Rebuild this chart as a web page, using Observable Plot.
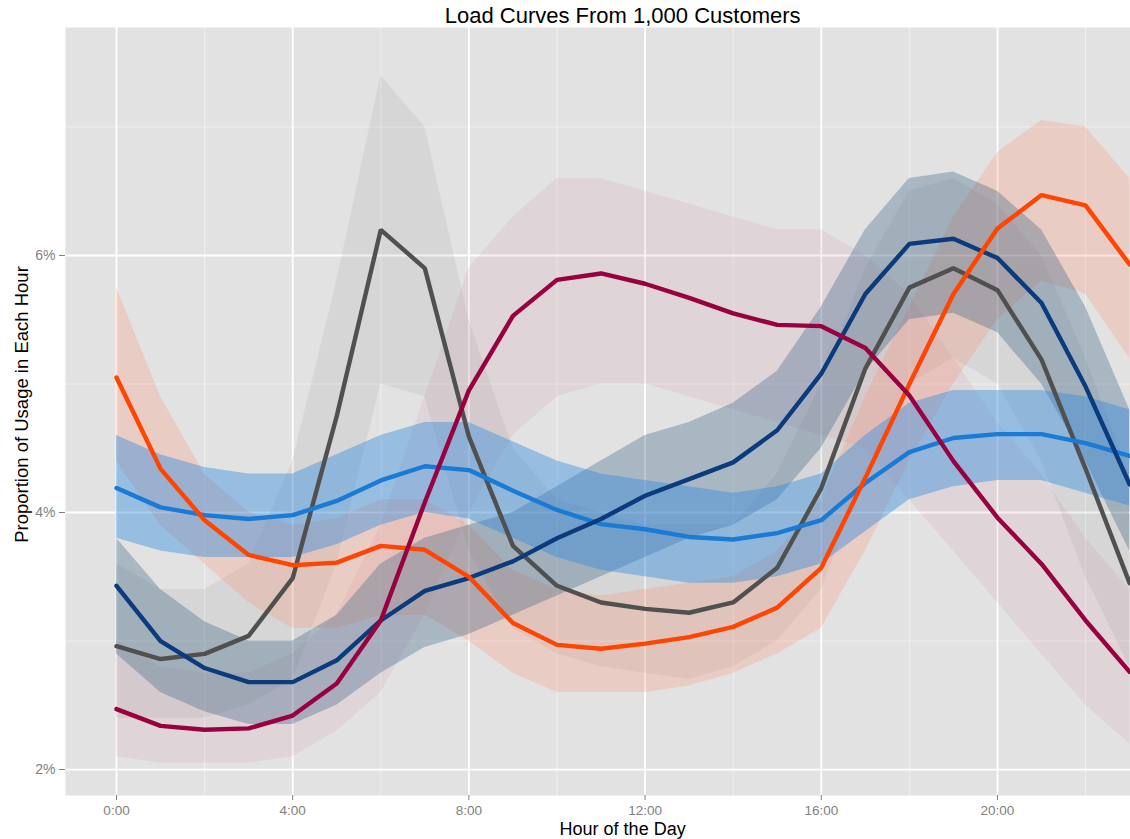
<!DOCTYPE html>
<html>
<head>
<meta charset="utf-8">
<script src="https://cdn.jsdelivr.net/npm/d3@7"></script>
<script src="https://cdn.jsdelivr.net/npm/@observablehq/plot@0.6"></script>
<style>
  html, body { margin: 0; padding: 0; background: #ffffff; }
  #chart { width: 1130px; height: 839px; overflow: hidden; }
</style>
</head>
<body>
<div id="chart"></div>
<script>
// ---------- data ----------
const titleText = "Load Curves From 1,000 Customers";
const xLabel = "Hour of the Day";
const yLabel = "Proportion of Usage in Each Hour";

const hours = [0,1,2,3,4,5,6,7,8,9,10,11,12,13,14,15,16,17,18,19,20,21,22,23];
const xTicks = [0,4,8,12,16,20];
const xTickLabels = ["0:00","4:00","8:00","12:00","16:00","20:00"];
const xMinor = [2,6,10,14,18,22];
const yTicks = [2,4,6];
const yTickLabels = ["2%","4%","6%"];
const yMinor = [3,5,7];

// cluster centre curves (% of daily usage per hour)
const orangeMean = [5.05,4.34,3.94,3.67,3.59,3.61,3.74,3.71,3.50,3.14,2.97,2.94,2.98,3.03,3.11,3.26,3.57,4.27,5.00,5.70,6.21,6.47,6.39,5.93];
const blueMean   = [4.19,4.04,3.98,3.95,3.98,4.09,4.25,4.36,4.33,4.17,4.02,3.91,3.87,3.81,3.79,3.84,3.94,4.23,4.47,4.58,4.61,4.61,4.54,4.44];
const navyMean   = [3.43,3.00,2.79,2.68,2.68,2.85,3.16,3.39,3.49,3.62,3.80,3.95,4.13,4.26,4.39,4.64,5.08,5.70,6.09,6.13,5.98,5.63,4.98,4.22];
const grayMean   = [2.96,2.86,2.90,3.04,3.49,4.75,6.20,5.90,4.59,3.74,3.43,3.30,3.25,3.22,3.30,3.57,4.19,5.12,5.75,5.90,5.73,5.19,4.34,3.45];
const maroonMean = [2.47,2.34,2.31,2.32,2.42,2.67,3.16,4.08,4.95,5.53,5.81,5.86,5.78,5.67,5.55,5.46,5.45,5.28,4.91,4.40,3.96,3.60,3.16,2.76];

// spread of the individual customer curves around each cluster (low / high envelope)
const orangeLo = [4.40,3.90,3.60,3.30,3.10,3.10,3.20,3.20,3.00,2.75,2.60,2.60,2.60,2.65,2.75,2.90,3.10,3.70,4.40,5.00,5.50,5.80,5.70,5.20];
const orangeHi = [5.75,4.90,4.30,4.00,3.90,3.95,4.10,4.10,3.90,3.55,3.40,3.35,3.40,3.45,3.50,3.70,4.10,4.90,5.60,6.30,6.80,7.05,7.00,6.60];
const blueLo   = [3.80,3.70,3.65,3.65,3.65,3.75,3.90,4.00,3.95,3.80,3.65,3.55,3.50,3.45,3.45,3.50,3.60,3.85,4.10,4.20,4.25,4.25,4.15,4.05];
const blueHi   = [4.60,4.45,4.35,4.30,4.30,4.45,4.60,4.70,4.70,4.55,4.40,4.30,4.25,4.20,4.15,4.20,4.30,4.60,4.85,4.95,4.95,4.95,4.90,4.80];
const navyLo   = [2.90,2.60,2.45,2.35,2.35,2.50,2.75,2.95,3.05,3.20,3.35,3.50,3.65,3.80,3.90,4.10,4.50,5.10,5.50,5.55,5.40,5.00,4.40,3.70];
const navyHi   = [3.80,3.40,3.15,3.00,3.00,3.20,3.60,3.80,3.90,4.00,4.20,4.40,4.60,4.70,4.85,5.10,5.60,6.20,6.60,6.65,6.50,6.20,5.60,4.80];
const grayLo   = [2.40,2.40,2.40,2.50,2.70,3.60,5.00,4.90,3.70,3.10,2.90,2.80,2.75,2.70,2.80,3.00,3.40,4.30,5.00,5.20,5.00,4.40,3.50,2.80];
const grayHi   = [3.60,3.40,3.40,3.60,4.40,5.80,7.40,7.00,5.50,4.50,4.10,4.00,3.90,3.90,3.90,4.30,5.00,5.90,6.50,6.60,6.40,6.00,5.20,4.30];
const maroonLo = [2.10,2.05,2.05,2.05,2.10,2.30,2.60,3.20,4.00,4.60,4.90,5.00,5.00,4.90,4.80,4.70,4.60,4.50,4.10,3.70,3.30,2.90,2.50,2.20];
const maroonHi = [3.00,2.80,2.75,2.75,2.90,3.20,3.90,4.90,5.90,6.30,6.60,6.60,6.50,6.40,6.30,6.20,6.20,6.00,5.70,5.20,4.70,4.30,3.80,3.40];

// ---------- build tables for the library ----------
const clusterNames = ["maroon","gray","orange","navy","blue"];
const means = {orange: orangeMean, blue: blueMean, navy: navyMean, gray: grayMean, maroon: maroonMean};
const los   = {orange: orangeLo, blue: blueLo, navy: navyLo, gray: grayLo, maroon: maroonLo};
const his   = {orange: orangeHi, blue: blueHi, navy: navyHi, gray: grayHi, maroon: maroonHi};
const lineColor = {orange:"#FF4500", blue:"#1A7BD6", navy:"#0B3B7D", gray:"#505050", maroon:"#99003F"};
const bandColor = {orange:"#FF8C66", blue:"#2F8AE0", navy:"#3A6388", gray:"#8A8A8A", maroon:"#C8688C"};
const bandOpacity = {orange:0.25, blue:0.42, navy:0.34, gray:0.13, maroon:0.11};

const rows = [];
for (const c of clusterNames) {
  hours.forEach((h, i) => rows.push({cluster: c, hour: h, mean: means[c][i], lo: los[c][i], hi: his[c][i]}));
}
const xTickRows = xTicks.map((t, i) => ({t, label: xTickLabels[i]}));
const yTickRows = yTicks.map((t, i) => ({t, label: yTickLabels[i]}));

const bandMarks = clusterNames.map(c => Plot.areaY(rows.filter(d => d.cluster === c), {
  x: "hour", y1: "lo", y2: "hi", fill: bandColor[c], fillOpacity: bandOpacity[c], clip: true
}));
const lineOrder = ["gray","blue","navy","orange","maroon"];
const lineMarks = lineOrder.map(c => Plot.lineY(rows.filter(d => d.cluster === c), {
  x: "hour", y: "mean", stroke: lineColor[c], strokeWidth: 4.4, strokeLinejoin: "miter", clip: true
}));

const chart = Plot.plot({
  width: 1130,
  height: 839,
  marginLeft: 65,
  marginRight: 0,
  marginTop: 27,
  marginBottom: 44,
  x: {domain: [-1.158, 23.02]},
  y: {domain: [1.798, 7.774]},
  style: {background: "#ffffff", fontFamily: "'Liberation Sans', Arial, Helvetica, sans-serif", fontSize: "14px"},
  marks: [
    Plot.frame({fill: "#E2E2E2", stroke: null}),
    Plot.ruleX(xMinor, {stroke: "#F0F0F0", strokeWidth: 0.9}),
    Plot.ruleY(yMinor, {stroke: "#F0F0F0", strokeWidth: 0.9}),
    Plot.ruleX(xTicks, {stroke: "#FFFFFF", strokeWidth: 1.8}),
    Plot.ruleY(yTicks, {stroke: "#FFFFFF", strokeWidth: 1.8}),
    ...bandMarks,
    ...lineMarks,
    Plot.axisX({ticks: xTicks, tickFormat: () => "", tickSize: 5, stroke: "#7F7F7F", label: null}),
    Plot.axisY({ticks: yTicks, tickFormat: () => "", tickSize: 6, stroke: "#7F7F7F", label: null}),
    Plot.text(xTickRows, {x: "t", text: "label", frameAnchor: "bottom", dy: 15, fontSize: 13.5, fill: "#7F7F7F", lineAnchor: "middle", textAnchor: "middle"}),
    Plot.text(yTickRows, {y: "t", text: "label", frameAnchor: "left", dx: -10, fontSize: 14, fill: "#7F7F7F", lineAnchor: "middle", textAnchor: "end"}),
    Plot.text([titleText], {x: 11.49, frameAnchor: "top", dy: -12, text: d => d, fontSize: 22, fill: "#000000", lineAnchor: "middle"}),
    Plot.text([xLabel], {x: 11.49, frameAnchor: "bottom", dy: 34, text: d => d, fontSize: 18, fill: "#000000", lineAnchor: "middle", textAnchor: "middle"}),
    Plot.text([yLabel], {frameAnchor: "left", dx: -43, dy: -7, text: d => d, fontSize: 18.5, fill: "#000000", rotate: -90, lineAnchor: "middle", textAnchor: "middle"})
  ]
});
document.getElementById("chart").appendChild(chart);
</script>
</body>
</html>
